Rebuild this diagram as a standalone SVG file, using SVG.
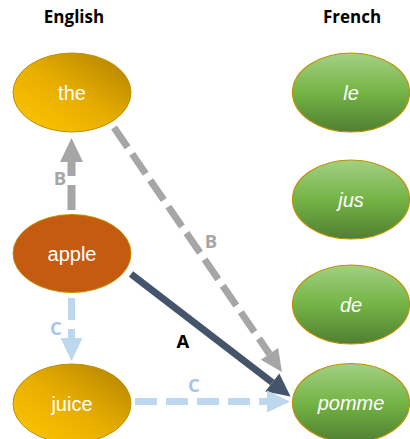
<svg xmlns="http://www.w3.org/2000/svg" width="410" height="439" viewBox="0 0 410 439">
<style>
.title{font-family:"Open Sans","Liberation Sans",sans-serif;font-weight:bold;font-size:17px;fill:#000;text-anchor:middle}
.en{font-family:"Liberation Sans",Arial,sans-serif;font-size:20px;fill:#fff;text-anchor:middle}
.fr{font-family:"Liberation Sans",Arial,sans-serif;font-size:20px;font-style:italic;fill:#fff;text-anchor:middle}
.gold{fill:url(#goldGrad);stroke:#bf9000;stroke-width:1}
.orange{fill:#c55a11;stroke:#bf9000;stroke-width:1}
.green{fill:url(#greenGrad);stroke:#bf9000;stroke-width:1.2}
.lbl{font-family:"Open Sans","Liberation Sans",sans-serif;font-weight:bold;font-size:18.5px;text-anchor:middle}
.conn{fill:none;stroke-linecap:butt}
</style>
<defs>
<linearGradient id="goldGrad" x1="0" y1="1" x2="1" y2="0">
<stop offset="0" stop-color="#ffc800"/>
<stop offset="0.5" stop-color="#e6ad00"/>
<stop offset="1" stop-color="#ad8000"/>
</linearGradient>
<linearGradient id="greenGrad" x1="0" y1="0" x2="0" y2="1">
<stop offset="0" stop-color="#a3d083"/>
<stop offset="0.5" stop-color="#74b445"/>
<stop offset="1" stop-color="#507f32"/>
</linearGradient>
<marker id="hGrey" markerUnits="userSpaceOnUse" markerWidth="24" markerHeight="23" refX="0" refY="11.5" orient="auto" overflow="visible">
<path d="M0,0 L24,11.5 L0,23 z" fill="#a6a6a6"/>
</marker>
<marker id="hGrey2" markerUnits="userSpaceOnUse" markerWidth="22" markerHeight="21" refX="0" refY="10.5" orient="auto" overflow="visible">
<path d="M0,0 L22,10.5 L0,21 z" fill="#a6a6a6"/>
</marker>
<marker id="hDark" markerUnits="userSpaceOnUse" markerWidth="23" markerHeight="23" refX="0" refY="11.5" orient="auto" overflow="visible">
<path d="M0,0 L23,11.5 L0,23 z" fill="#44546a"/>
</marker>
<marker id="hBlue" markerUnits="userSpaceOnUse" markerWidth="23" markerHeight="22" refX="0" refY="11" orient="auto" overflow="visible">
<path d="M0,0 L23,11 L0,22 z" fill="#bdd7ee"/>
</marker>
</defs>

<text class="title" x="74" y="23">English</text>
<text class="title" x="352" y="23">French</text>

<g id="connectors">
<path id="edge-apple-the" class="conn" d="M71.5,210 L71.5,162" stroke="#a6a6a6" stroke-width="8" stroke-dasharray="25 9" marker-end="url(#hGrey)"/>
<path id="edge-the-pomme" class="conn" d="M114,127.5 L269.5,353.9" stroke="#a6a6a6" stroke-width="7" stroke-dasharray="24 8" marker-end="url(#hGrey2)"/>
<path id="edge-apple-pomme" class="conn" d="M131,274 L272.3,382.5" stroke="#44546a" stroke-width="7" marker-end="url(#hDark)"/>
<path id="edge-apple-juice" class="conn" d="M71.5,298 L71.5,338" stroke="#bdd7ee" stroke-width="7" stroke-dasharray="22 9" marker-end="url(#hBlue)"/>
<path id="edge-juice-pomme" class="conn" d="M135,401.5 L267,401.5" stroke="#bdd7ee" stroke-width="7" stroke-dasharray="22 9" marker-end="url(#hBlue)"/>
<text class="lbl" x="60" y="185" fill="#a6a6a6">B</text>
<text class="lbl" x="211" y="248" fill="#a6a6a6">B</text>
<text class="lbl" x="183" y="348" fill="#000">A</text>
<text class="lbl" x="56" y="334.5" fill="#aac3e8">C</text>
<text class="lbl" x="194" y="391.5" fill="#aac3e8">C</text>
</g>

<g id="node-the"><ellipse class="gold" cx="72" cy="92.5" rx="59" ry="39.5"/><text class="en" x="72" y="100">the</text></g>
<g id="node-apple"><ellipse class="orange" cx="72" cy="253.5" rx="59" ry="39"/><text class="en" x="72" y="260.5">apple</text></g>
<g id="node-juice"><ellipse class="gold" cx="72" cy="403.5" rx="59" ry="39.5"/><text class="en" x="72" y="410.5">juice</text></g>
<g id="node-le"><ellipse class="green" cx="351" cy="92.5" rx="58.5" ry="39.5"/><text class="fr" x="351" y="100">le</text></g>
<g id="node-jus"><ellipse class="green" cx="351" cy="199.5" rx="58.5" ry="39.5"/><text class="fr" x="351" y="207">jus</text></g>
<g id="node-de"><ellipse class="green" cx="351" cy="304.5" rx="58.5" ry="39.5"/><text class="fr" x="351" y="312">de</text></g>
<g id="node-pomme"><ellipse class="green" cx="351" cy="403" rx="58.5" ry="39.5"/><text class="fr" x="351" y="410">pomme</text></g>
</svg>
